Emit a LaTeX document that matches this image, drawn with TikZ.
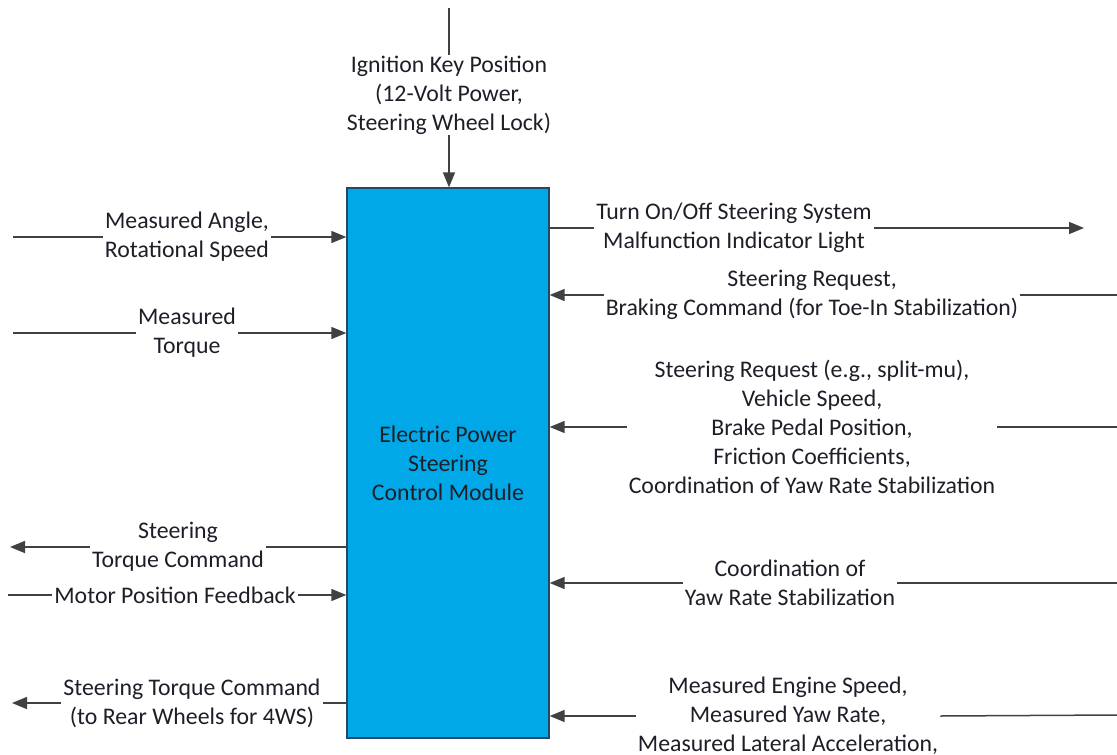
\documentclass[tikz,border=0pt]{standalone}
\usepackage{fontspec}
\setmainfont{Carlito}
\usetikzlibrary{arrows.meta}
\definecolor{ecublue}{RGB}{0,168,232}
\definecolor{ecuedge}{RGB}{38,72,100}
\definecolor{wiregray}{RGB}{65,65,65}
\definecolor{inkgray}{RGB}{30,30,40}
\tikzset{
    ecu/.style={rectangle,draw=ecuedge,line width=1.3pt,fill=ecublue,minimum width=202pt,minimum height=550pt,align=center,text=inkgray,inner sep=0},
    sig/.style={align=center,text=inkgray,inner xsep=2pt,inner ysep=1pt},
    wire/.style={draw=wiregray,line width=1.5pt},
    >={Triangle[length=15pt,width=12pt]}
}

\begin{document}
\begin{tikzpicture}[x=1pt,y=-1pt,font=\fontsize{23.8}{29}\selectfont]
    \useasboundingbox (0,0) rectangle (1117,755);
    \node[ecu] (ecu) at (448,463) {Electric Power\\Steering\\Control Module};
    % ignition key from above
    \coordinate (keySrc) at (449,8);
    \node[sig] (key) at (449,95) {Ignition Key Position\\(12-Volt Power,\\Steering Wheel Lock)};
    \draw[wire] (keySrc) -- (key.north);
    \draw[wire,->] (key.south) -- (key.south |- ecu.north);
    % left side
    \coordinate (angleSrc) at (13,237);
    \coordinate (torqueSrc) at (13,333);
    \coordinate (steerOut) at (10,547);
    \coordinate (motorSrc) at (8,595);
    \coordinate (rearOut) at (12,703);
    \node[sig] (angle) at (187,237) {Measured Angle,\\Rotational Speed};
    \node[sig] (torque) at (187,333) {Measured\\Torque};
    \node[sig] (steer) at (178,547) {Steering\\Torque Command};
    \node[sig] (motor) at (175,595) {Motor Position Feedback};
    \node[sig] (rear) at (192,703) {Steering Torque Command\\(to Rear Wheels for 4WS)};
    \draw[wire] (angleSrc) -- (angle.west);
    \draw[wire,->] (angle.east) -- (angle.east -| ecu.west);
    \draw[wire] (torqueSrc) -- (torque.west);
    \draw[wire,->] (torque.east) -- (torque.east -| ecu.west);
    \draw[wire] (ecu.west |- steer) -- (steer.east);
    \draw[wire,->] (steer.west) -- (steerOut);
    \draw[wire] (motorSrc) -- (motor.west);
    \draw[wire,->] (motor.east) -- (motor.east -| ecu.west);
    \draw[wire] (ecu.west |- rear) -- (rear.east);
    \draw[wire,->] (rear.west) -- (rearOut);
    % right side
    \coordinate (milOut) at (1084,228);
    \coordinate (toeSrc) at (1117,295);
    \coordinate (yawSrc) at (1117,427);
    \coordinate (coordSrc) at (1117,583);
    \coordinate (engineSrc) at (1117,715);
    \node[sig] (mil) at (734,228) {Turn On/Off Steering System\\Malfunction Indicator Light};
    \node[sig] (toe) at (812,295) {Steering Request,\\Braking Command (for Toe-In Stabilization)};
    \node[sig] (yaw) at (812,427) {Steering Request (e.g., split-mu),\\Vehicle Speed,\\Brake Pedal Position,\\Friction Coefficients,\\Coordination of Yaw Rate Stabilization};
    \node[sig] (coord) at (790,583) {Coordination of\\Yaw Rate Stabilization};
    \node[sig] (engine) at (788,716) {Measured Engine Speed,\\Measured Yaw Rate,\\Measured Lateral Acceleration,};
    \draw[wire] (ecu.east |- mil) -- (mil.west);
    \draw[wire,->] (mil.east) -- (milOut);
    \draw[wire] (toeSrc) -- (toe.east);
    \draw[wire,->] (toe.west) -- (toe.west -| ecu.east);
    \draw[wire] (yawSrc) -- (yaw.east);
    \draw[wire,->] (yaw.west) -- (yaw.west -| ecu.east);
    \draw[wire] (coordSrc) -- (coord.east);
    \draw[wire,->] (coord.west) -- (coord.west -| ecu.east);
    \draw[wire] (engineSrc) -- (engine.east);
    \draw[wire,->] (engine.west) -- (engine.west -| ecu.east);
\end{tikzpicture}
\end{document}
